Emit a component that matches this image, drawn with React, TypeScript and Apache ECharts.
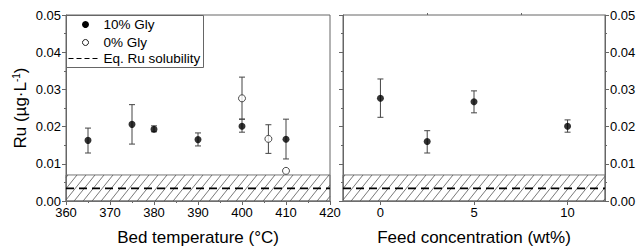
import React, { useEffect, useRef } from "react";
import * as echarts from "echarts";

// ---- Data ----
const tempX10 = [365, 375, 380, 390, 400, 410];
const ru10 = [0.0163, 0.0206, 0.0193, 0.0165, 0.0201, 0.0166];
const ru10Lo = [0.0129, 0.0153, 0.0186, 0.0148, 0.0185, 0.0113];
const ru10Hi = [0.0196, 0.0259, 0.0202, 0.0183, 0.022, 0.022];

const tempX0 = [400, 406, 410];
const ru0 = [0.0276, 0.0167, 0.0081];
const ru0Lo = [0.022, 0.0128, null];
const ru0Hi = [0.0333, 0.0205, null];

const feedX = [0, 2.5, 5, 10];
const ruFeed = [0.0276, 0.016, 0.0267, 0.0201];
const ruFeedLo = [0.0225, 0.0129, 0.0237, 0.0185];
const ruFeedHi = [0.0328, 0.0189, 0.0296, 0.0218];

const solubility = 0.0034;
const solubilityBandTop = 0.007;

const tempRange = [360, 420];
const feedRange = [-2, 12];
const yTicks = [0, 0.05];
const feedTickLabels = [0, 5, 10];
const feedMinorTicks = [2.5, 7.5];

const FONT = "Liberation Sans, Arial, sans-serif";
const AXIS_COLOR = "#666";

function errRender(params: any, api: any) {
  const x = api.value(0);
  const lo = api.value(1);
  const hi = api.value(2);
  const top = api.coord([x, hi]);
  const bot = api.coord([x, lo]);
  const w = 3;
  const style = { stroke: "#444", lineWidth: 1 };
  return {
    type: "group",
    children: [
      { type: "line", shape: { x1: top[0], y1: top[1], x2: bot[0], y2: bot[1] }, style },
      { type: "line", shape: { x1: top[0] - w, y1: top[1], x2: top[0] + w, y2: top[1] }, style },
      { type: "line", shape: { x1: bot[0] - w, y1: bot[1], x2: bot[0] + w, y2: bot[1] }, style },
    ],
  };
}

function bandRender(params: any, api: any) {
  const x0 = api.value(0);
  const y0 = api.value(1);
  const x1 = api.value(2);
  const y1 = api.value(3);
  const tl = api.coord([x0, y1]);
  const br = api.coord([x1, y0]);
  const L = tl[0];
  const T = tl[1];
  const R = br[0];
  const B = br[1];
  const h = B - T;
  const run = h * 0.8;
  const children: any[] = [
    {
      type: "rect",
      shape: { x: L, y: T, width: R - L, height: h },
      style: { fill: "none", stroke: "#777", lineWidth: 1 },
    },
  ];
  const step = 9;
  for (let bx = L - run + 2; bx < R; bx += step) {
    const t0 = Math.max(0, (L - bx) / run);
    const t1 = Math.min(1, (R - bx) / run);
    if (t1 > t0) {
      children.push({
        type: "line",
        shape: { x1: bx + t0 * run, y1: B - t0 * h, x2: bx + t1 * run, y2: B - t1 * h },
        style: { stroke: "#555", lineWidth: 0.8 },
      });
    }
  }
  return { type: "group", children };
}

export default function App() {
  const ref = useRef<HTMLDivElement>(null);
  useEffect(() => {
    if (!ref.current) return;
    const chart = echarts.init(ref.current, null, { renderer: "svg" });

    const axisLine = { show: true, onZero: false, lineStyle: { color: AXIS_COLOR, width: 1 } };
    const labelStyle = { color: "#000", fontSize: 13, fontFamily: FONT };
    const nameStyle = { color: "#000", fontSize: 17, fontFamily: FONT };

    const err10 = tempX10.map((x, i) => [x, ru10Lo[i], ru10Hi[i]]);
    const err0 = tempX0
      .map((x, i) => [x, ru0Lo[i], ru0Hi[i]])
      .filter((d) => d[1] !== null && d[2] !== null);
    const errFeed = feedX.map((x, i) => [x, ruFeedLo[i], ruFeedHi[i]]);

    const dashStyle = { color: "#000", width: 1.8, type: [8, 5] };
    const legendFont = { fontSize: 13.5, fontFamily: FONT, fill: "#000", verticalAlign: "middle" };

    const option: any = {
      animation: false,
      backgroundColor: "#fff",
      grid: [
        { left: 66, right: 310, top: 15, bottom: 44, show: true, borderColor: AXIS_COLOR, borderWidth: 1, backgroundColor: "transparent" },
        { left: 343, right: 35, top: 15, bottom: 44, show: true, borderColor: AXIS_COLOR, borderWidth: 1, backgroundColor: "transparent" },
      ],
      xAxis: [
        {
          gridIndex: 0,
          type: "value",
          min: tempRange[0],
          max: tempRange[1],
          interval: 10,
          axisLine,
          axisTick: { show: true, inside: false, length: 4, lineStyle: { color: AXIS_COLOR } },
          minorTick: { show: true, splitNumber: 2, length: 2, lineStyle: { color: AXIS_COLOR } },
          splitLine: { show: false },
          axisLabel: { ...labelStyle, margin: 5 },
          name: "Bed temperature (°C)",
          nameLocation: "middle",
          nameGap: 28,
          nameTextStyle: nameStyle,
        },
        {
          gridIndex: 1,
          type: "value",
          min: feedRange[0],
          max: feedRange[1],
          axisLine,
          axisTick: { show: true, inside: false, length: 4, customValues: feedTickLabels, lineStyle: { color: AXIS_COLOR } },
          splitLine: { show: false },
          axisLabel: { ...labelStyle, margin: 5, customValues: feedTickLabels },
          name: "Feed concentration (wt%)",
          nameLocation: "middle",
          nameGap: 28,
          nameTextStyle: nameStyle,
        },
        {
          gridIndex: 1,
          type: "value",
          min: feedRange[0],
          max: feedRange[1],
          axisLine: { show: false, onZero: false },
          axisTick: { show: true, inside: false, length: 2, customValues: feedMinorTicks, lineStyle: { color: AXIS_COLOR } },
          splitLine: { show: false },
          axisLabel: { show: false },
        },
      ],
      yAxis: [
        {
          gridIndex: 0,
          type: "value",
          min: yTicks[0],
          max: yTicks[1],
          interval: 0.01,
          position: "left",
          axisLine,
          axisTick: { show: true, inside: false, length: 4, lineStyle: { color: AXIS_COLOR } },
          minorTick: { show: true, splitNumber: 2, length: 2, lineStyle: { color: AXIS_COLOR } },
          splitLine: { show: false },
          axisLabel: { ...labelStyle, margin: 5, formatter: (v: number) => v.toFixed(2) },
          name: "{a|Ru (µg·L}{s|-1}{a|)}",
          nameLocation: "middle",
          nameGap: 36,
          nameTextStyle: {
            ...nameStyle,
            rich: {
              a: { fontSize: 17, fontFamily: FONT, color: "#000", lineHeight: 19 },
              s: { fontSize: 10, fontFamily: FONT, color: "#000", lineHeight: 19, verticalAlign: "top", padding: [0, 0, 8, 0] },
            },
          },
        },
        {
          gridIndex: 1,
          type: "value",
          min: yTicks[0],
          max: yTicks[1],
          interval: 0.01,
          position: "right",
          axisLine,
          axisTick: { show: true, inside: false, length: 4, lineStyle: { color: AXIS_COLOR } },
          minorTick: { show: true, splitNumber: 2, length: 2, lineStyle: { color: AXIS_COLOR } },
          splitLine: { show: false },
          axisLabel: { ...labelStyle, margin: 5, formatter: (v: number) => v.toFixed(2) },
        },
        {
          gridIndex: 1,
          type: "value",
          min: yTicks[0],
          max: yTicks[1],
          interval: 0.01,
          position: "left",
          axisLine,
          axisTick: { show: true, inside: false, length: 4, lineStyle: { color: AXIS_COLOR } },
          minorTick: { show: true, splitNumber: 2, length: 2, lineStyle: { color: AXIS_COLOR } },
          splitLine: { show: false },
          axisLabel: { show: false },
        },
      ],
      series: [
        {
          type: "custom",
          xAxisIndex: 0,
          yAxisIndex: 0,
          renderItem: bandRender,
          data: [[tempRange[0], 0, tempRange[1], solubilityBandTop]],
          z: 1,
          silent: true,
        },
        {
          type: "custom",
          xAxisIndex: 1,
          yAxisIndex: 1,
          renderItem: bandRender,
          data: [[feedRange[0], 0, feedRange[1], solubilityBandTop]],
          z: 1,
          silent: true,
        },
        {
          type: "line",
          xAxisIndex: 0,
          yAxisIndex: 0,
          showSymbol: false,
          symbol: "none",
          lineStyle: dashStyle,
          data: [[tempRange[0], solubility], [tempRange[1], solubility]],
          z: 2,
          silent: true,
        },
        {
          type: "line",
          xAxisIndex: 1,
          yAxisIndex: 1,
          showSymbol: false,
          symbol: "none",
          lineStyle: dashStyle,
          data: [[feedRange[0], solubility], [feedRange[1], solubility]],
          z: 2,
          silent: true,
        },
        { type: "custom", xAxisIndex: 0, yAxisIndex: 0, renderItem: errRender, data: err10, z: 2 },
        { type: "custom", xAxisIndex: 0, yAxisIndex: 0, renderItem: errRender, data: err0, z: 2 },
        { type: "custom", xAxisIndex: 1, yAxisIndex: 1, renderItem: errRender, data: errFeed, z: 2 },
        {
          name: "10% Gly",
          type: "scatter",
          xAxisIndex: 0,
          yAxisIndex: 0,
          symbol: "circle",
          symbolSize: 7,
          itemStyle: { color: "#000" },
          data: tempX10.map((x, i) => [x, ru10[i]]),
          z: 3,
        },
        {
          name: "0% Gly",
          type: "scatter",
          xAxisIndex: 0,
          yAxisIndex: 0,
          symbol: "circle",
          symbolSize: 7,
          itemStyle: { color: "#fff", borderColor: "#222", borderWidth: 1 },
          data: tempX0.map((x, i) => [x, ru0[i]]),
          z: 3,
        },
        {
          name: "10% Gly feed",
          type: "scatter",
          xAxisIndex: 1,
          yAxisIndex: 1,
          symbol: "circle",
          symbolSize: 7,
          itemStyle: { color: "#000" },
          data: feedX.map((x, i) => [x, ruFeed[i]]),
          z: 3,
        },
      ],
      graphic: [
        {
          type: "group",
          left: 66,
          top: 15,
          children: [
            { type: "rect", shape: { x: 0, y: 0, width: 137, height: 52 }, style: { fill: "#fff", stroke: AXIS_COLOR, lineWidth: 1 } },
            { type: "circle", shape: { cx: 19, cy: 9, r: 3.5 }, style: { fill: "#000" } },
            { type: "circle", shape: { cx: 19, cy: 27, r: 3 }, style: { fill: "#fff", stroke: "#222", lineWidth: 1 } },
            { type: "line", shape: { x1: 2, y1: 43, x2: 32, y2: 43 }, style: { stroke: "#000", lineWidth: 1, lineDash: [5, 3] } },
            { type: "text", x: 37, y: 9, style: { ...legendFont, text: "10% Gly" } },
            { type: "text", x: 37, y: 27, style: { ...legendFont, text: "0% Gly" } },
            { type: "text", x: 37, y: 43, style: { ...legendFont, text: "Eq. Ru solubility" } },
          ],
          z: 10,
        },
      ],
    };
    chart.setOption(option);
    return () => chart.dispose();
  }, []);
  return <div ref={ref} style={{ position: "fixed", left: 0, top: 0, width: 640, height: 251 }} />;
}
